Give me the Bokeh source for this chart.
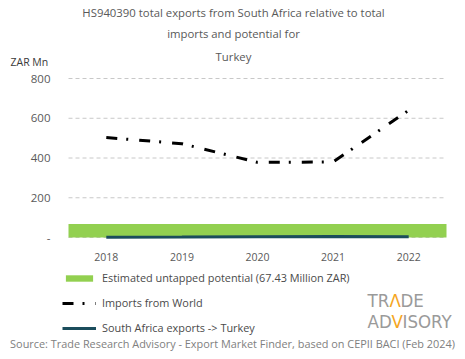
from bokeh.plotting import figure
from bokeh.models import Range1d, FixedTicker, Legend, LegendItem, Label
from bokeh.embed import file_html
from bokeh.resources import INLINE

years = [2018, 2019, 2020, 2021, 2022]
imports_world = [503, 472, 378, 380, 640]
sa_exports = [1, 2, 4, 5, 4]
potential = 67.43
y_ticks = [0, 200, 400, 600, 800]

title_lines = ["HS940390 total exports from South Africa relative to total",
               "imports and potential for", "Turkey"]
legend_labels = ["Estimated untapped potential (67.43 Million ZAR)",
                 "Imports from World", "South Africa exports -> Turkey"]
source_text = "Source: Trade Research Advisory - Export Market Finder, based on CEPII BACI (Feb 2024)"

FONT = "Open Sans"
W, H = 465, 359
# plot area (pixels from top-left of canvas)
PL, PR, PT, PB = 68, 446, 78, 237
x0, x1 = years[0] - 0.5, years[-1] + 0.5
y0, y1 = 0, 800
sx = (PR - PL) / (x1 - x0)
sy = (PB - PT) / (y1 - y0)

def dx(px):
    return x0 + (px - PL) / sx

def dy(py):
    return y0 + (PB - py) / sy

p = figure(width=W, height=H, output_backend="svg", toolbar_location=None,
           x_range=Range1d(dx(0), dx(W)), y_range=Range1d(dy(H), dy(0)),
           min_border=0, min_border_left=0, min_border_right=0,
           min_border_top=0, min_border_bottom=0)
p.outline_line_color = None
p.background_fill_color = "white"
p.border_fill_color = "white"

# axes
p.xaxis.fixed_location = y0
p.xaxis.ticker = FixedTicker(ticks=years)
p.xaxis.axis_line_color = None
p.xaxis.major_tick_line_color = None
p.xaxis.minor_tick_line_color = None
p.xaxis.major_label_text_font = FONT
p.xaxis.major_label_text_font_size = "10.5px"
p.xaxis.major_label_text_color = "#595959"
p.xaxis.major_label_standoff = 9

p.yaxis.fixed_location = x0
p.yaxis.ticker = FixedTicker(ticks=y_ticks)
p.yaxis.major_label_overrides = {0: "-"}
p.yaxis.axis_line_color = None
p.yaxis.major_tick_line_color = None
p.yaxis.minor_tick_line_color = None
p.yaxis.major_label_text_font = FONT
p.yaxis.major_label_text_font_size = "11.5px"
p.yaxis.major_label_text_color = "#595959"
p.yaxis.major_label_standoff = 12

p.grid.visible = False
# dashed horizontal guide lines at the y ticks, spanning the plot area
p.segment(x0=[x0] * len(y_ticks), x1=[x1] * len(y_ticks), y0=y_ticks, y1=y_ticks,
          line_color="#c8c8c8", line_dash="4 3", line_width=1)

# glyphs
r_pot = p.quad(left=[x0], right=[x1], bottom=[y0], top=[potential],
               fill_color="#92d050", line_color=None)
r_imp = p.line(years, imports_world, line_color="black", line_width=3,
               line_dash="11 9 2 11")
r_exp = p.line(years, sa_exports, line_color="#1b4d5c", line_width=3)

legend = Legend(items=[LegendItem(label=legend_labels[0], renderers=[r_pot]),
                       LegendItem(label=legend_labels[1], renderers=[r_imp]),
                       LegendItem(label=legend_labels[2], renderers=[r_exp])],
                location=(62, H - 335), orientation="vertical",
                padding=0, margin=0, spacing=10,
                glyph_width=34, glyph_height=8, label_height=12,
                label_standoff=6, border_line_color=None,
                background_fill_alpha=0,
                label_text_font=FONT, label_text_font_size="10.9px",
                label_text_color="#4a4a4a")
p.add_layout(legend, "center")

for line, py in zip(title_lines, [12, 33, 56]):
    p.add_layout(Label(x=dx(233), y=dy(py), text=line, text_align="center",
                       text_baseline="middle", text_font=FONT,
                       text_font_size="11.35px", text_color="#595959"))

p.add_layout(Label(x=dx(10), y=dy(61), text="ZAR Mn", text_align="left",
                   text_baseline="middle", text_font=FONT,
                   text_font_size="10.5px", text_color="#3a3a3a"))

LOGO_FONT = "DejaVu Sans Condensed, Roboto"
logo_parts = [("TR", 367, 300, "#9a9a9a"), ("Λ", 389, 300, "#f5a623"),
              ("DE", 400, 300, "#9a9a9a"),
              ("AD", 367, 321, "#9a9a9a"), ("V", 391, 321, "#f5a623"),
              ("ISORY", 402, 321, "#9a9a9a")]
for txt, px, py, col in logo_parts:
    p.add_layout(Label(x=dx(px), y=dy(py), text=txt, text_align="left",
                       text_baseline="middle", text_font=LOGO_FONT,
                       text_font_size="18.5px", text_color=col))

p.add_layout(Label(x=dx(232), y=dy(343), text=source_text, text_align="center",
                   text_baseline="middle", text_font=FONT,
                   text_font_size="10.9px", text_color="#808080"))

open("out.html", "w").write(file_html(p, INLINE))
